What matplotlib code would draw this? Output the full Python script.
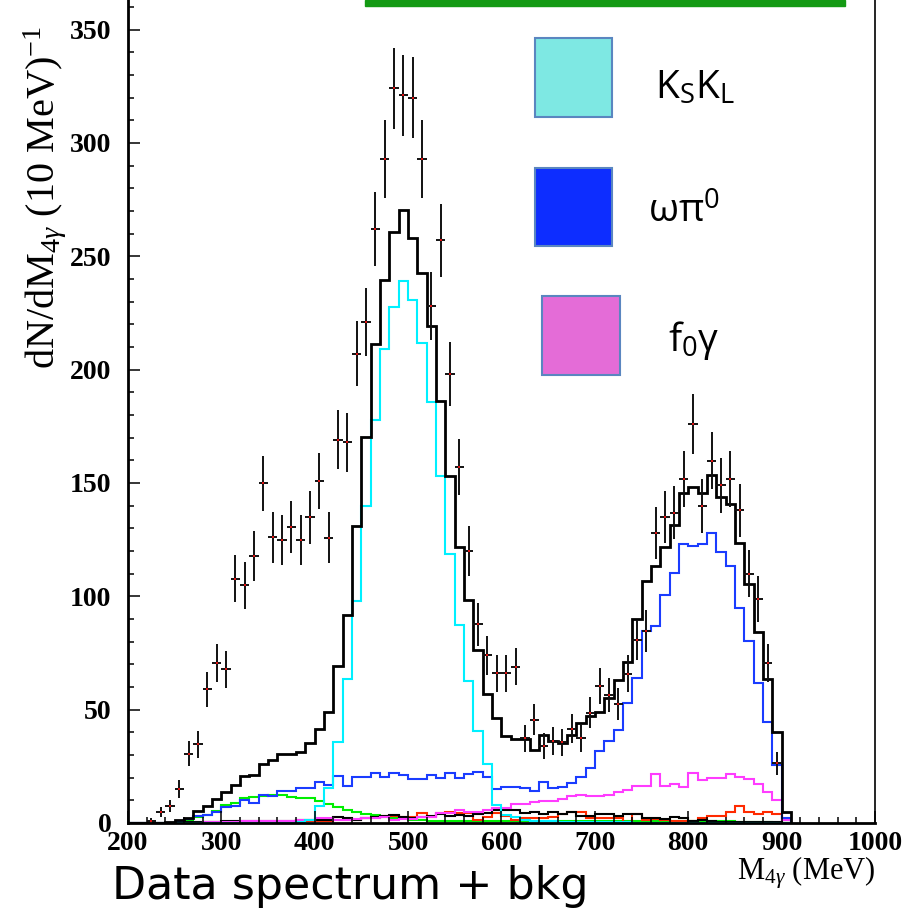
import numpy as np
import matplotlib
matplotlib.use('Agg')
import matplotlib.pyplot as plt
from matplotlib.patches import Rectangle
from matplotlib.ticker import MultipleLocator

plt.rcParams['mathtext.fontset'] = 'custom'
plt.rcParams['mathtext.rm'] = 'Liberation Serif'
plt.rcParams['mathtext.it'] = 'Liberation Serif:italic'
plt.rcParams['mathtext.bf'] = 'Liberation Serif:bold'

# ---------------- data (10 MeV bins, lower edges 200 ... 900) ----------------
bin_edges = np.arange(200, 911, 10)

total_mc = [0, 0, 0, 0, 0.5, 1.3, 2.3, 5.4, 7.5, 10.7,
            13.7, 16.9, 20.7, 21.2, 25.9, 27.6, 30.3, 30.3, 31.5, 35.1,
            41.6, 48.8, 69.4, 91.6, 131.2, 170.1, 211.3, 239.5, 260.8, 270.2,
            258, 242.8, 219.2, 186.2, 153.2, 121.9, 98.2, 76.3, 56.9, 46.2,
            38.4, 37, 37, 32.2, 38.7, 36.2, 35.4, 38.8, 44.1, 47.3,
            49.1, 55.3, 63.1, 71.2, 89.8, 106.6, 113.4, 121.9, 131.5, 145.4,
            148.4, 145.7, 153.5, 143.7, 140.6, 123.4, 105.4, 84.1, 63.4, 40,
            4.9]

kskl = [0, 0, 0, 0, 0, 0, 0, 0, 0, 0,
        0, 0, 0, 0, 0, 0, 0, 0, 0.5, 1.2,
        7.6, 15.4, 35.6, 63.4, 98.1, 140, 177.6, 209, 227.8, 239.2,
        230.7, 211.9, 185.9, 153.2, 118.5, 87.3, 62.6, 40.7, 25.9, 7.9,
        3.5, 2.5, 1.5, 1, 1, 0.8, 0.6, 0.5, 0.3, 0.3,
        0.3, 0.3, 0.3, 0.3, 0.2, 0.2, 0.2, 0.2, 0.2, 0.2,
        0.2, 0.2, 0.2, 0.2, 0.2, 0.2, 0.2, 0.2, 0.2, 0.2,
        0]

omega_pi0 = [0, 0, 0, 0, 0, 0.5, 1.6, 2.9, 3.4, 4.9,
             6.9, 7.5, 10.3, 8.7, 12.4, 11.9, 14.3, 14.3, 15.3, 15.3,
             18, 16.8, 20.8, 16.3, 20.3, 20.2, 22.2, 20.5, 22.2, 21.2,
             19.3, 19.3, 21.3, 20, 21.9, 20, 21.8, 22.4, 20.5, 14.8,
             15.7, 15.8, 15.3, 14.1, 18.2, 15.3, 16, 17.8, 20.4, 24.1,
             31.8, 36.2, 41, 52.8, 63.8, 84.5, 86.9, 100.4, 110.2, 122.9,
             122.3, 122.9, 127.9, 119.5, 113.4, 95, 80.3, 61.9, 44.7, 25.6,
             2]

f0gamma = [0, 0, 0, 0, 0, 0, 0, 0, 0.5, 0.5,
           0.5, 0.5, 0.7, 0.7, 0.8, 0.8, 1, 1, 1.5, 1.5,
           2, 2, 1.5, 1.3, 1.8, 2.4, 2.2, 2.8, 1.5, 1.8,
           1.8, 2.8, 2.8, 4.3, 4.3, 5.7, 5, 5, 5.7, 6.5,
           6.5, 8.4, 8.2, 9.1, 9.8, 9.8, 10.5, 11.8, 12.4, 12,
           12, 12.5, 13.6, 14.5, 16.4, 16.4, 21.4, 16.4, 17.1, 16,
           22.2, 19, 19.7, 19.8, 21.5, 20.1, 19.2, 17.2, 13.5, 10,
           1.5]

bkg_green = [0, 0, 0, 0, 0, 0.5, 1.3, 2.8, 3.4, 5.3,
             8, 8.7, 10.9, 11.3, 11.9, 12.5, 12.2, 11.6, 10.9, 11.1,
             9.8, 8.2, 7.2, 5.7, 5, 4, 3.5, 2.8, 2.4, 2.4,
             1.3, 1.2, 1.1, 1.1, 1, 1, 1, 1, 1, 1,
             0.9, 0.9, 0.9, 0.9, 0.9, 0.9, 0.9, 0.9, 0.9, 0.9,
             0.9, 0.9, 0.9, 0.9, 0.9, 0.9, 0.8, 0.8, 0.8, 0.8,
             0.7, 0.7, 0.7, 0.7, 0.7, 0.6, 0.6, 0.6, 0.3, 0.2,
             0]

bkg_red = [0, 0, 0, 0, 0, 0, 0, 0, 0.5, 0.5,
           0.5, 0.5, 0.5, 0.5, 0.5, 0.5, 0.6, 0.6, 0.6, 0.7,
           1, 1, 1.3, 1.3, 1.5, 2, 2.4, 3.2, 3.2, 2.8,
           2.6, 4.5, 2.8, 4.6, 4.9, 4.6, 4.3, 1.3, 2.8, 4.4,
           3, 1.3, 2.4, 2.2, 2.4, 2.8, 4, 4.7, 5, 2,
           2, 2.4, 2, 0.4, 4, 1.3, 1.6, 1.3, 1.1, 1.1,
           0.8, 2.4, 3.1, 3.1, 4.7, 7.5, 4.7, 4, 4.7, 4,
           1.3]

bkg_black = [0, 0, 0, 0, 0, 0.5, 0.5, 0.5, 0.5, 0.6,
             0.8, 0.8, 1, 1, 1, 1, 1, 1, 1.2, 1.2,
             1.3, 1.3, 2.8, 2, 1.3, 2, 2.8, 3.2, 3.5, 2.8,
             2.4, 2.8, 3.2, 4, 3.2, 3.5, 3, 3.9, 4.5, 5.7,
             5.7, 5.7, 4.5, 4.9, 3.8, 4.9, 4.1, 4.9, 3.2, 3,
             4.1, 4.1, 3, 4.1, 4.1, 2.4, 2, 1.7, 2.8, 2,
             1, 1.2, 0.8, 0.6, 0.6, 0.6, 0.6, 0.6, 0.6, 0.6,
             0]

data_x = [225, 235, 245, 255, 265, 275, 285, 295, 305, 315,
          325, 335, 345, 355, 365, 375, 385, 395, 405, 415,
          425, 435, 445, 455, 465, 475, 485, 495, 505, 515,
          525, 535, 545, 555, 565, 575, 585, 595, 605, 615,
          625, 635, 645, 655, 665, 675, 685, 695, 705, 715,
          725, 735, 745, 755, 765, 775, 785, 795, 805, 815,
          825, 835, 845, 855, 865, 875, 885, 895]
data_y = [1, 4.7, 7.6, 15, 30.6, 34.7, 59, 70.7, 67.8, 107.8,
          104.8, 117.8, 149.8, 126, 124.8, 130.7, 124.8, 134.8, 151, 125.8,
          169, 168, 207, 221, 262, 293, 324, 321, 320, 293,
          228, 257, 198, 157, 120, 87.6, 74, 66, 66, 69,
          37.3, 45.6, 34, 36.2, 35.7, 41.6, 37.6, 48.7, 60.4, 56.5,
          52.5, 65.9, 80.7, 84.8, 127.9, 135, 136.9, 151.7, 175.9, 139.8,
          159.8, 149, 151.7, 137.9, 110, 98.8, 70.7, 26.3]

x_ticks = [200, 300, 400, 500, 600, 700, 800, 900, 1000]
y_ticks = [0, 50, 100, 150, 200, 250, 300, 350]

legend_labels = [r'K$_\mathregular{S}$K$_\mathregular{L}$',
                 r'ωπ$^\mathregular{0}$',
                 r'f$_\mathregular{0}$γ']
legend_colors = ['#7ee8e3', '#0d2dff', '#e46cd7']

# ---------------- figure ----------------
W, H = 904, 915
fig = plt.figure(figsize=(W / 100, H / 100), dpi=100)
fig.patch.set_facecolor('white')

ax = fig.add_axes([128 / W, 1 - 823 / H, (875 - 128) / W, 823 / H])
ax.set_xlim(200, 1000)
ax.set_ylim(0, 823 / 2.267)

lw_c = 1.5
ax.stairs(bkg_green, bin_edges, color='#00ee00', lw=lw_c)
ax.stairs(bkg_red, bin_edges, color='#ff2a00', lw=lw_c)
ax.stairs(bkg_black, bin_edges, color='black', lw=lw_c)
ax.stairs(f0gamma, bin_edges, color='#ff3cff', lw=lw_c)
ax.stairs(omega_pi0, bin_edges, color='#1a3cff', lw=lw_c)
ax.stairs(kskl, bin_edges, color='#00f0ff', lw=lw_c)
ax.stairs(total_mc, bin_edges, color='black', lw=2.0)

dy = np.sqrt(np.array(data_y))
ax.errorbar(data_x, data_y, yerr=dy, xerr=5, fmt='none', ecolor='#111111',
            elinewidth=1.4, capsize=0, zorder=5)
ax.plot(data_x, data_y, 's', color='#e01010', ms=1.6, mew=0, zorder=6)

ax.set_xticks(x_ticks)
ax.set_yticks(y_ticks)
ax.xaxis.set_minor_locator(MultipleLocator(20))
ax.yaxis.set_minor_locator(MultipleLocator(10))
ax.tick_params(which='both', direction='in', top=False, right=False, width=1.1)
ax.tick_params(which='major', length=8.6)
ax.tick_params(which='minor', length=4.3)
ax.tick_params(axis='x', pad=6)
ax.tick_params(axis='y', pad=12)
for lab in ax.get_xticklabels() + ax.get_yticklabels():
    lab.set_fontfamily('Liberation Serif')
    lab.set_fontweight('bold')
    lab.set_fontsize(20)
for s in ['left', 'bottom']:
    ax.spines[s].set_linewidth(2.0)
ax.spines['top'].set_visible(False)
ax.spines['right'].set_linewidth(1.2)

# axis titles
fig.text(45 / W, 1 - 26 / H, r'dN/dM$_{4\gamma}$ (10 MeV)$^{-1}$', rotation=90,
         ha='center', va='top', fontsize=29, family='Liberation Serif')
fig.text(875 / W, 1 - 873 / H, r'M$_{4\gamma}$ (MeV)', ha='right', va='center',
         fontsize=22, family='Liberation Serif')

# green header bar
fig.patches.append(Rectangle((365 / W, 1 - 6 / H), (845 - 365) / W, 6 / H,
                             transform=fig.transFigure, color='#149a14', zorder=10))

# legend boxes
boxes = [(535, 38, 612, 117), (535, 168, 612, 246), (542, 296, 620, 375)]
label_pos = [(655, 88), (648, 212), (668, 340)]
for (x0, y0, x1, y1), col, lab, (tx, ty) in zip(boxes, legend_colors, legend_labels, label_pos):
    fig.patches.append(Rectangle((x0 / W, 1 - y1 / H), (x1 - x0) / W, (y1 - y0) / H,
                                 transform=fig.transFigure, facecolor=col,
                                 edgecolor='#5a86c0', lw=1.5, zorder=10))
    fig.text(tx / W, 1 - ty / H, lab, ha='left', va='center', fontsize=28,
             family='Open Sans', zorder=11)

# bottom caption
cap = fig.text(112 / W, 1 - 886 / H, 'Data spectrum + bkg', ha='left', va='center',
               fontsize=30, family='DejaVu Sans')
fig.canvas.draw()
bb = cap.get_window_extent()
cap.set_fontsize(30 * (588 - 112) / bb.width)

fig.savefig('out.png', dpi=100)
